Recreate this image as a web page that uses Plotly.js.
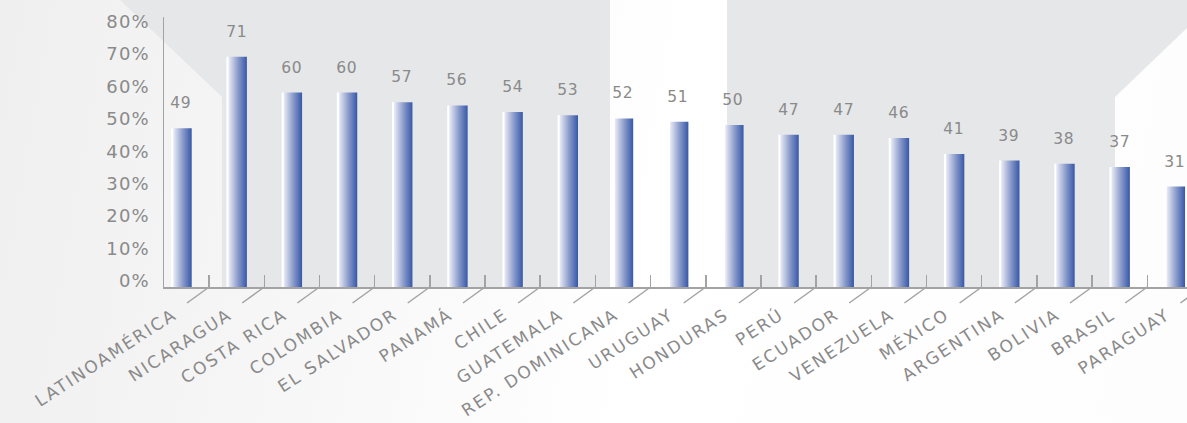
<!DOCTYPE html>
<html>
<head>
<meta charset="utf-8">
<script src="https://cdn.plot.ly/plotly-3.0.1.min.js"></script>
<style>
  html, body { margin: 0; padding: 0; }
  #chart {
    width: 1187px; height: 423px;
    background: linear-gradient(100deg, #efefef 0%, #f6f6f6 25%, #ffffff 55%, #fdfdfd 100%);
  }
  #chart .xtick text { letter-spacing: 2px; }
  #chart .ytick text { letter-spacing: 1.2px; }
  #chart .annotation-text { letter-spacing: 0.8px; }
</style>
</head>
<body>
<div id="chart"></div>
<script>
const categories = ["LATINOAMÉRICA", "NICARAGUA", "COSTA RICA", "COLOMBIA", "EL SALVADOR",
  "PANAMÁ", "CHILE", "GUATEMALA", "REP. DOMINICANA", "URUGUAY", "HONDURAS", "PERÚ",
  "ECUADOR", "VENEZUELA", "MÉXICO", "ARGENTINA", "BOLIVIA", "BRASIL", "PARAGUAY"];
const values = [49, 71, 60, 60, 57, 56, 54, 53, 52, 51, 50, 47, 47, 46, 41, 39, 38, 37, 31];
const tickValues = [0, 10, 20, 30, 40, 50, 60, 70, 80];
const tickLabels = ["0%", "10%", "20%", "30%", "40%", "50%", "60%", "70%", "80%"];

const W = 1187, H = 423;
const L = 164, R = 0, T = 17, B = 136;
const pw = W - L - R, ph = H - T - B;
const px = x => (x - L) / pw;
const py = y => (H - B - y) / ph;
const poly = pts => "M" + pts.map(p => px(p[0]) + "," + py(p[1])).join(" L") + " Z";

const grey = "#e6e7e9";
const textGrey = "#8a8a8a";
const lineGrey = "#a3a3a3";

const shapes = [
  { type: "path", xref: "paper", yref: "paper", layer: "below", line: { width: 0 }, fillcolor: grey,
    path: poly([[120, 0], [222, 97], [222, 287], [610, 287], [610, 0]]) },
  { type: "path", xref: "paper", yref: "paper", layer: "below", line: { width: 0 }, fillcolor: grey,
    path: poly([[727, 0], [1187, 0], [1187, 28], [1115, 97], [1115, 287], [727, 287]]) }
];
// leader lines under each category boundary
categories.forEach((c, i) => {
  shapes.push({ type: "line", xref: "x", yref: "paper", layer: "above",
    x0: i + 0.5, x1: i + 0.1, y0: 0, y1: -16 / ph,
    line: { color: lineGrey, width: 1.5 } });
});

const annotations = categories.map((c, i) => ({
  x: c, y: values[i], xref: "x", yref: "y", text: String(values[i]),
  showarrow: false, yanchor: "bottom", xanchor: "center", yshift: 14,
  font: { family: "DejaVu Sans", size: 15.5, color: textGrey }
}));

const trace = {
  type: "bar", x: categories, y: values, width: 0.37,
  marker: { color: "#3a5aa9", line: { width: 0 } },
  hoverinfo: "none"
};

const layout = {
  width: W, height: H,
  margin: { l: L, r: R, t: T, b: B, pad: 0 },
  paper_bgcolor: "rgba(0,0,0,0)", plot_bgcolor: "rgba(0,0,0,0)",
  showlegend: false,
  xaxis: {
    type: "category", range: [-0.317, 18.22],
    showline: true, linecolor: lineGrey, linewidth: 1.5,
    ticks: "inside", tickson: "boundaries", ticklen: 12, tickwidth: 1.5, tickcolor: lineGrey,
    tickangle: -33, showgrid: false, zeroline: false,
    tickfont: { family: "DejaVu Sans", size: 17, color: textGrey },
    ticklabelstandoff: 10, ticklabelshift: -8
  },
  yaxis: {
    range: [0, 83.3], tickmode: "array", tickvals: tickValues, ticktext: tickLabels,
    showline: true, linecolor: lineGrey, linewidth: 1.5, showgrid: false, zeroline: false,
    ticks: "", ticklabelshift: -6, ticklabelstandoff: 9,
    tickfont: { family: "DejaVu Sans", size: 18, color: textGrey }
  },
  shapes: shapes,
  annotations: annotations
};

Plotly.newPlot("chart", [trace], layout, { staticPlot: true }).then(gd => {
  const svg = gd.querySelector("svg.main-svg");
  const ns = "http://www.w3.org/2000/svg";
  let defs = svg.querySelector("defs");
  if (!defs) { defs = document.createElementNS(ns, "defs"); svg.insertBefore(defs, svg.firstChild); }
  const grad = document.createElementNS(ns, "linearGradient");
  grad.setAttribute("id", "barGrad");
  grad.setAttribute("x1", "0"); grad.setAttribute("y1", "0");
  grad.setAttribute("x2", "1"); grad.setAttribute("y2", "0");
  [["0", "#ffffff"], ["0.08", "#ffffff"], ["0.12", "#e6e9f4"], ["0.55", "#8d9dcc"], ["1", "#3658a8"]].forEach(s => {
    const st = document.createElementNS(ns, "stop");
    st.setAttribute("offset", s[0]); st.setAttribute("stop-color", s[1]);
    grad.appendChild(st);
  });
  defs.appendChild(grad);
  gd.querySelectorAll(".trace.bars .point path").forEach(p => { p.style.fill = "url(#barGrad)"; });
});
</script>
</body>
</html>
